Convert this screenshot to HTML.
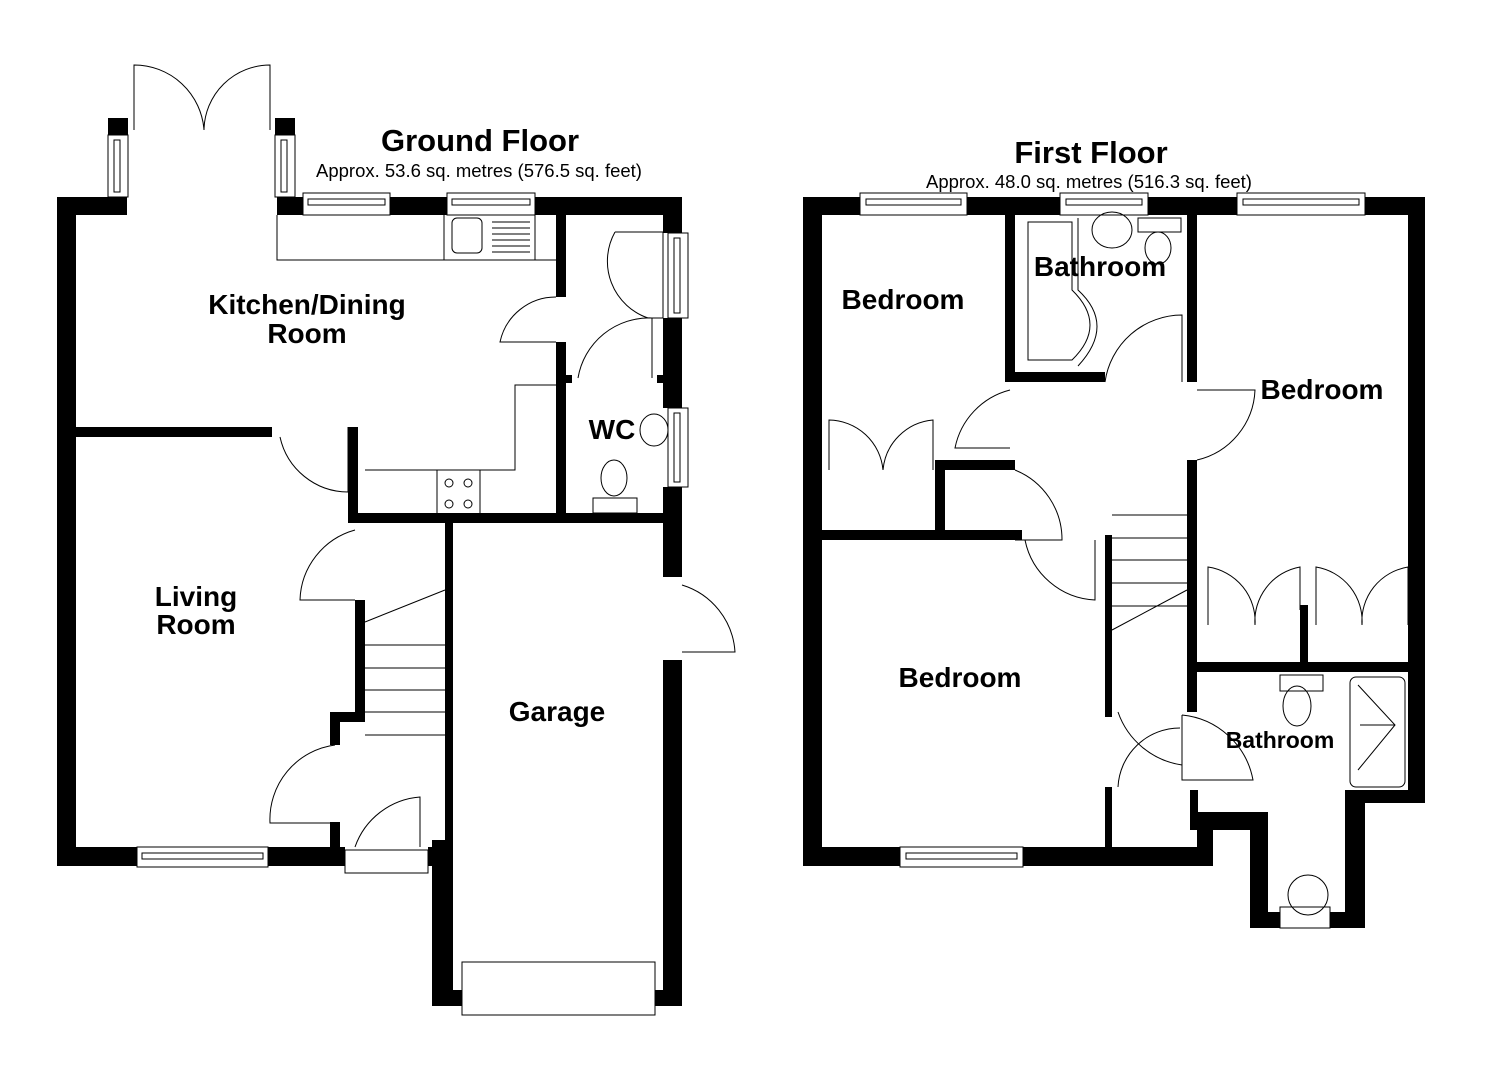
<!DOCTYPE html>
<html><head><meta charset="utf-8"><style>
html,body{margin:0;padding:0;background:#fff;}
svg{display:block;}
text{font-family:"Liberation Sans",Arial,sans-serif;font-weight:bold;fill:#000;text-anchor:middle;}
.t{font-weight:normal;}
.l{fill:none;stroke:#000;stroke-width:1;}
.w{fill:#fff;stroke:#000;stroke-width:1;}
</style></head><body>
<svg width="1485" height="1080" viewBox="0 0 1485 1080" xmlns="http://www.w3.org/2000/svg">
<g fill="#000">
<rect x="57" y="197" width="19" height="669"/>
<rect x="57" y="197" width="70" height="18"/>
<rect x="108" y="118" width="20" height="17"/>
<rect x="275" y="118" width="20" height="17"/>
<rect x="277" y="197" width="405" height="18"/>
<rect x="663" y="197" width="19" height="36"/>
<rect x="663" y="318" width="19" height="90"/>
<rect x="663" y="487" width="19" height="90"/>
<rect x="663" y="660" width="19" height="346"/>
<rect x="556" y="215" width="10" height="82"/>
<rect x="556" y="342" width="10" height="175"/>
<rect x="566" y="375" width="6" height="8"/>
<rect x="657" y="375" width="6" height="8"/>
<rect x="76" y="427" width="196" height="10"/>
<rect x="348" y="427" width="10" height="95"/>
<rect x="348" y="513" width="334" height="10"/>
<rect x="445" y="522" width="8" height="318"/>
<rect x="432" y="840" width="21" height="166"/>
<rect x="432" y="990" width="30" height="16"/>
<rect x="655" y="990" width="27" height="16"/>
<rect x="355" y="600" width="10" height="112"/>
<rect x="330" y="712" width="35" height="10"/>
<rect x="330" y="712" width="10" height="33"/>
<rect x="330" y="822" width="10" height="25"/>
<rect x="57" y="847" width="288" height="19"/>
<rect x="428" y="847" width="25" height="19"/>
</g>
<g>
<rect class="w" x="108" y="135" width="20" height="62"/><rect class="l" x="114" y="140" width="6" height="52"/>
<rect class="w" x="275" y="135" width="20" height="62"/><rect class="l" x="281" y="140" width="6" height="52"/>
<rect class="w" x="303" y="193" width="87" height="22"/><rect class="l" x="308" y="199" width="77" height="6"/>
<rect class="w" x="447" y="193" width="88" height="22"/><rect class="l" x="452" y="199" width="78" height="6"/>
<rect class="w" x="668" y="233" width="20" height="85"/><rect class="l" x="674" y="238" width="6" height="75"/>
<rect class="w" x="668" y="408" width="20" height="79"/><rect class="l" x="674" y="413" width="6" height="69"/>
<rect class="w" x="137" y="847" width="131" height="20"/><rect class="l" x="142" y="853" width="121" height="6"/>
<rect class="w" x="462" y="962" width="193" height="53"/>
<rect class="w" x="345" y="850" width="83" height="23"/>
</g>
<path class="l" d="M134 130 L134 65 A70 70 0 0 1 204 130 M270 130 L270 65 A66 66 0 0 0 204 130"/>
<path class="l" d="M277 215 L277 260 L556 260 M444 215 L444 260 M535 215 L535 260"/>
<rect class="l" x="452" y="218" width="30" height="35" rx="5"/>
<path class="l" d="M492 222H530M492 228H530M492 234H530M492 240H530M492 246H530M492 252H530"/>
<path class="l" d="M365 470 L515 470 L515 385 L556 385 M437 470 L437 513 M480 470 L480 513"/>
<g class="l"><circle cx="449" cy="483" r="4"/><circle cx="468" cy="483" r="4"/><circle cx="449" cy="504" r="4"/><circle cx="468" cy="504" r="4"/></g>
<path class="l" d="M556 297 A57 57 0 0 0 500 342 L556 342"/>
<path class="l" d="M615 232 L663 232 L663 318 L648 318 A60 60 0 0 1 615 232"/>
<path class="l" d="M578 378 A72 72 0 0 1 652 318 L652 378"/>
<path class="l" d="M280 437 A70 70 0 0 0 348 492 L348 427"/>
<path class="l" d="M355 530 A75 75 0 0 0 300 600 L355 600"/>
<path class="l" d="M335 745 A75 75 0 0 0 270 823 L335 823"/>
<path class="l" d="M355 847 A75 75 0 0 1 420 797 L420 847"/>
<path class="l" d="M682 585 A75 75 0 0 1 735 652 L682 652"/>
<path class="l" d="M365 645H445M365 668H445M365 690H445M365 712H445M365 735H445M365 622 L445 590"/>
<ellipse class="l" cx="654" cy="430" rx="14" ry="16"/>
<ellipse class="l" cx="614" cy="478" rx="13" ry="18"/>
<rect class="l" x="593" y="498" width="44" height="15"/>

<g fill="#000">
<rect x="803" y="197" width="19" height="669"/>
<rect x="803" y="197" width="622" height="18"/>
<rect x="1408" y="197" width="17" height="606"/>
<rect x="1345" y="790" width="80" height="13"/>
<rect x="1345" y="790" width="20" height="138"/>
<rect x="1250" y="912" width="115" height="16"/>
<rect x="1250" y="830" width="18" height="98"/>
<rect x="1197" y="812" width="71" height="18"/>
<rect x="1190" y="790" width="8" height="40"/>
<rect x="803" y="847" width="410" height="19"/>
<rect x="1197" y="812" width="16" height="54"/>
<rect x="1005" y="215" width="10" height="167"/>
<rect x="1005" y="372" width="100" height="10"/>
<rect x="1187" y="215" width="10" height="167"/>
<rect x="1187" y="460" width="10" height="252"/>
<rect x="935" y="460" width="80" height="10"/>
<rect x="935" y="460" width="10" height="70"/>
<rect x="822" y="530" width="200" height="10"/>
<rect x="1105" y="535" width="7" height="182"/>
<rect x="1105" y="787" width="7" height="60"/>
<rect x="1197" y="662" width="211" height="10"/>
<rect x="1300" y="605" width="8" height="60"/>
</g>
<g>
<rect class="w" x="860" y="193" width="107" height="22"/><rect class="l" x="866" y="199" width="95" height="6"/>
<rect class="w" x="1060" y="193" width="88" height="22"/><rect class="l" x="1066" y="199" width="76" height="6"/>
<rect class="w" x="1237" y="193" width="128" height="22"/><rect class="l" x="1243" y="199" width="116" height="6"/>
<rect class="w" x="900" y="847" width="123" height="20"/><rect class="l" x="906" y="853" width="111" height="6"/>
<rect class="w" x="1280" y="907" width="50" height="21"/>
</g>
<path class="l" d="M1028 222 L1072 222 L1072 290 Q1108 325 1072 360 L1028 360 Z"/>
<path class="l" d="M1078 218 L1078 290 Q1116 325 1078 366"/>
<ellipse class="l" cx="1112" cy="230" rx="20" ry="18"/>
<rect class="l" x="1138" y="218" width="43" height="14"/>
<ellipse class="l" cx="1158" cy="248" rx="13" ry="16"/>
<ellipse class="l" cx="1297" cy="706" rx="14" ry="20"/>
<rect class="l" x="1280" y="675" width="43" height="16"/>
<rect class="l" x="1350" y="677" width="55" height="110" rx="6"/>
<path class="l" d="M1358 685 L1395 725 L1358 770 M1360 725 H1395"/>
<ellipse class="l" cx="1308" cy="895" rx="20" ry="20"/>
<path class="l" d="M1105 382 A78 78 0 0 1 1182 315 L1182 382"/>
<path class="l" d="M1010 390 A75 75 0 0 0 955 448 L1010 448"/>
<path class="l" d="M1197 390 L1255 390 A75 75 0 0 1 1197 460"/>
<path class="l" d="M1015 470 A75 75 0 0 1 1062 540 L1015 540"/>
<path class="l" d="M1025 540 A75 75 0 0 0 1095 600 L1095 540"/>
<path class="l" d="M1118 712 A80 80 0 0 0 1182 765"/>
<path class="l" d="M1118 787 A62 62 0 0 1 1180 728"/>
<path class="l" d="M1182 715 L1182 780 L1253 780 A80 80 0 0 0 1182 715"/>
<path class="l" d="M829 470 L829 420 A55 55 0 0 1 883 470 A55 55 0 0 1 933 420 L933 470"/>
<path class="l" d="M1208 625 V567 A55 55 0 0 1 1255 625 A55 55 0 0 1 1300 567 V610 M1316 625 V567 A55 55 0 0 1 1362 625 A55 55 0 0 1 1408 567 V625"/>
<path class="l" d="M1112 515H1187M1112 538H1187M1112 560H1187M1112 583H1187M1112 606H1187M1112 630 L1187 590"/>

<text x="480" y="151" font-size="31">Ground Floor</text>
<text class="t" x="479" y="177" font-size="18.5">Approx. 53.6 sq. metres (576.5 sq. feet)</text>
<text x="1091" y="163" font-size="31">First Floor</text>
<text class="t" x="1089" y="188" font-size="18.5">Approx. 48.0 sq. metres (516.3 sq. feet)</text>
<text x="307" y="314" font-size="28">Kitchen/Dining</text>
<text x="307" y="343" font-size="28">Room</text>
<text x="612" y="439" font-size="28">WC</text>
<text x="196" y="606" font-size="28">Living</text>
<text x="196" y="634" font-size="28">Room</text>
<text x="557" y="721" font-size="28">Garage</text>
<text x="903" y="309" font-size="28">Bedroom</text>
<text x="1100" y="276" font-size="28">Bathroom</text>
<text x="1322" y="399" font-size="28">Bedroom</text>
<text x="960" y="687" font-size="28">Bedroom</text>
<text x="1280" y="748" font-size="23">Bathroom</text>
</svg>
</body></html>
